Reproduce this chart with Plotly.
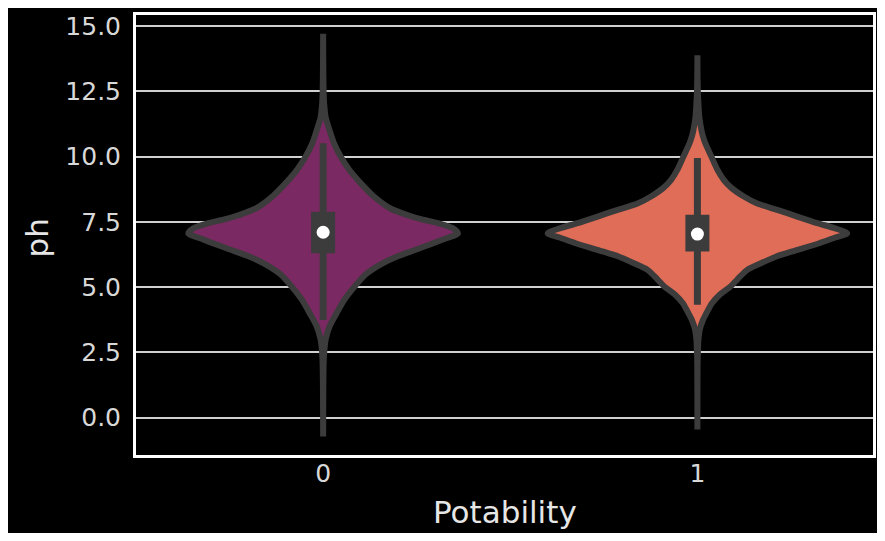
import plotly.graph_objects as go

# ---------------- data ----------------
categories = ["0", "1"]

# violin outline for Potability = 0 : pH levels and relative density (1.0 = widest violin)
ph_levels_0 = [14.7, 13.5, 12.5, 12.0, 11.5, 11.0, 10.5, 10.0, 9.5, 9.0, 8.5, 8.0, 7.75, 7.6,
               7.45, 7.25, 7.05, 6.85, 6.6, 6.42, 6.2, 5.92, 5.5, 5.0, 4.5, 4.0, 3.5, 3.0,
               2.5, 2.0, 1.0, -0.72]
density_0 = [0.0, 0.001, 0.003, 0.007, 0.017, 0.043, 0.073, 0.117, 0.173, 0.247, 0.333, 0.453,
             0.567, 0.653, 0.767, 0.867, 0.9, 0.813, 0.7, 0.613, 0.507, 0.4, 0.287, 0.207,
             0.14, 0.09, 0.043, 0.017, 0.007, 0.003, 0.001, 0.0]

# violin outline for Potability = 1
ph_levels_1 = [13.88, 13.0, 12.5, 12.0, 11.5, 11.0, 10.77, 10.5, 10.0, 9.5, 9.1, 8.8, 8.47, 8.2,
               7.96, 7.7, 7.45, 7.25, 7.06, 6.9, 6.68, 6.4, 6.17, 5.9, 5.66, 5.3, 5.0, 4.7,
               4.38, 4.0, 3.74, 3.4, 3.0, 2.5, 2.0, -0.45]
density_1 = [0.0, 0.001, 0.003, 0.007, 0.013, 0.027, 0.037, 0.053, 0.093, 0.133, 0.177, 0.227,
             0.31, 0.4, 0.533, 0.667, 0.8, 0.92, 1.0, 0.92, 0.813, 0.653, 0.527, 0.42, 0.333,
             0.267, 0.217, 0.147, 0.097, 0.06, 0.037, 0.017, 0.007, 0.003, 0.001, 0.0]

# inner box statistics
whisker_low = [3.74, 4.32]
q1 = [6.30, 6.36]
median = [7.10, 7.03]
q3 = [7.89, 7.77]
whisker_high = [10.51, 9.94]

y_ticks = [0.0, 2.5, 5.0, 7.5, 10.0, 12.5, 15.0]
y_tick_labels = ["0.0", "2.5", "5.0", "7.5", "10.0", "12.5", "15.0"]

# ---------------- styling ----------------
fill_colors = ["#7b2962", "#e06d57"]
edge = "#3c3c3c"
max_half_width = 0.4
tick_font = dict(family="DejaVu Sans", size=25, color="#d8d8d8")

fig = go.Figure()

levels = [ph_levels_0, ph_levels_1]
dens = [density_0, density_1]
for i, cat in enumerate(categories):
    pos = float(i)
    xs_right = [pos + d * max_half_width for d in dens[i]]
    xs_left = [pos - d * max_half_width for d in dens[i]]
    xs = xs_right + xs_left[::-1] + [xs_right[0]]
    ys = levels[i] + levels[i][::-1] + [levels[i][0]]
    fig.add_trace(go.Scatter(x=xs, y=ys, mode="lines", fill="toself",
                             fillcolor=fill_colors[i],
                             line=dict(color=edge, width=6, shape="spline", smoothing=0.7),
                             hoverinfo="skip", showlegend=False))
    # whisker
    fig.add_trace(go.Scatter(x=[pos, pos], y=[whisker_low[i], whisker_high[i]], mode="lines",
                             line=dict(color=edge, width=7), showlegend=False, hoverinfo="skip"))
    # box
    fig.add_trace(go.Scatter(x=[pos, pos], y=[q1[i], q3[i]], mode="lines",
                             line=dict(color=edge, width=24), showlegend=False, hoverinfo="skip"))
    # median dot
    fig.add_trace(go.Scatter(x=[pos], y=[median[i]], mode="markers",
                             marker=dict(color="white", size=13, line=dict(width=0)),
                             showlegend=False, hoverinfo="skip"))

# page has an 8px body margin; keep the figure inside the body box so nothing overflows
OFF = 8
W, H = 885 - 2 * OFF, 541 - 2 * OFF
L, R, T = 136 - OFF, 1, 15 - OFF
B = H - T - 440
pw, ph_ = W - L - R, H - T - B
px_per_unit = 375.8
x_max = -0.5 + pw / px_per_unit

fig.update_layout(
    width=W, height=H,
    margin=dict(l=L, r=R, t=T, b=B, pad=0),
    paper_bgcolor="black", plot_bgcolor="black",
    showlegend=False,
    xaxis=dict(range=[-0.5, x_max], tickvals=[0, 1], ticktext=categories,
               showgrid=False, zeroline=False, showline=True, linecolor="white",
               linewidth=3, mirror=True, ticks="", ticklen=0, tickfont=tick_font,
               ticklabelstandoff=-6),
    yaxis=dict(range=[-1.43, 15.42], tickvals=y_ticks, ticktext=y_tick_labels,
               showgrid=True, gridcolor="#d0d0d0", gridwidth=2, zeroline=False,
               showline=True, linecolor="white", linewidth=3, mirror=True,
               ticks="", ticklen=0, tickfont=tick_font, ticklabelstandoff=7),
    annotations=[
        dict(text="ph", x=(37 - OFF - L) / pw, y=(ph_ + T - (238 - OFF)) / ph_,
             xref="paper", yref="paper",
             showarrow=False, textangle=-90, xanchor="center", yanchor="middle",
             font=dict(family="DejaVu Sans", size=31, color="#e6e6e6")),
        dict(text="Potability", x=(507 - OFF - L) / pw, y=(ph_ + T - (512 - OFF)) / ph_,
             xref="paper", yref="paper", showarrow=False, xanchor="center", yanchor="middle",
             font=dict(family="DejaVu Sans", size=31, color="#e6e6e6")),
    ],
)

fig.write_html("out.html")
